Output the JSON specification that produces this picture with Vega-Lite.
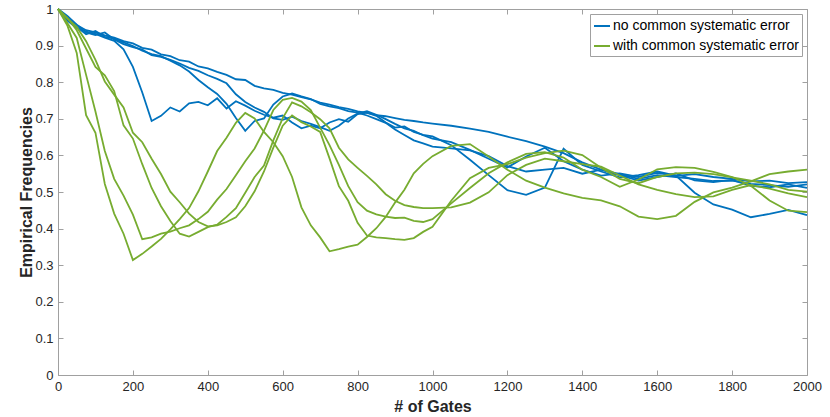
{
  "$schema": "https://vega.github.io/schema/vega-lite/v6.json",
  "width": 749,
  "height": 366,
  "autosize": {"type": "none"},
  "padding": {"left": 58, "top": 9, "right": 23, "bottom": 42},
  "background": "white",
  "config": {
    "view": {"stroke": null},
    "font": "Liberation Sans",
    "axis": {
      "grid": false,
      "domainColor": "#a0a0a0",
      "tickColor": "#a0a0a0",
      "tickSize": -5,
      "labelColor": "#262626",
      "titleColor": "#262626",
      "labelFontSize": 13,
      "titleFontSize": 16,
      "titleFontWeight": "bold",
      "labelFlush": false,
      "labelOverlap": false
    }
  },
  "datasets": {
    "series": [
      {"id": "b1", "type": "no common systematic error"},
      {"id": "b2", "type": "no common systematic error"},
      {"id": "b3", "type": "no common systematic error"},
      {"id": "b4", "type": "no common systematic error"},
      {"id": "g1", "type": "with common systematic error"},
      {"id": "g2", "type": "with common systematic error"},
      {"id": "g3", "type": "with common systematic error"},
      {"id": "g4", "type": "with common systematic error"}
    ],
    "points": [
      {"id":"b1","x":0,"y":1},{"id":"b1","x":25,"y":0.972},{"id":"b1","x":50,"y":0.956},{"id":"b1","x":75,"y":0.942},{"id":"b1","x":100,"y":0.936},{"id":"b1","x":125,"y":0.928},{"id":"b1","x":150,"y":0.922},{"id":"b1","x":175,"y":0.912},{"id":"b1","x":200,"y":0.906},{"id":"b1","x":225,"y":0.894},{"id":"b1","x":250,"y":0.889},{"id":"b1","x":275,"y":0.876},{"id":"b1","x":300,"y":0.871},{"id":"b1","x":325,"y":0.86},{"id":"b1","x":350,"y":0.856},{"id":"b1","x":375,"y":0.843},{"id":"b1","x":400,"y":0.838},{"id":"b1","x":425,"y":0.828},{"id":"b1","x":450,"y":0.82},{"id":"b1","x":475,"y":0.808},{"id":"b1","x":500,"y":0.806},{"id":"b1","x":525,"y":0.79},{"id":"b1","x":550,"y":0.783},{"id":"b1","x":575,"y":0.779},{"id":"b1","x":600,"y":0.771},{"id":"b1","x":625,"y":0.766},{"id":"b1","x":650,"y":0.759},{"id":"b1","x":675,"y":0.753},{"id":"b1","x":700,"y":0.744},{"id":"b1","x":725,"y":0.739},{"id":"b1","x":750,"y":0.732},{"id":"b1","x":775,"y":0.727},{"id":"b1","x":800,"y":0.72},{"id":"b1","x":825,"y":0.716},{"id":"b1","x":850,"y":0.71},{"id":"b1","x":875,"y":0.707},{"id":"b1","x":900,"y":0.702},{"id":"b1","x":925,"y":0.697},{"id":"b1","x":950,"y":0.694},{"id":"b1","x":975,"y":0.69},{"id":"b1","x":1000,"y":0.687},{"id":"b1","x":1050,"y":0.681},{"id":"b1","x":1100,"y":0.673},{"id":"b1","x":1150,"y":0.664},{"id":"b1","x":1200,"y":0.651},{"id":"b1","x":1250,"y":0.639},{"id":"b1","x":1300,"y":0.624},{"id":"b1","x":1350,"y":0.606},{"id":"b1","x":1400,"y":0.581},{"id":"b1","x":1450,"y":0.561},{"id":"b1","x":1500,"y":0.549},{"id":"b1","x":1550,"y":0.536},{"id":"b1","x":1600,"y":0.546},{"id":"b1","x":1650,"y":0.541},{"id":"b1","x":1700,"y":0.536},{"id":"b1","x":1750,"y":0.53},{"id":"b1","x":1800,"y":0.531},{"id":"b1","x":1850,"y":0.522},{"id":"b1","x":1900,"y":0.519},{"id":"b1","x":1950,"y":0.514},{"id":"b1","x":2000,"y":0.521},
      {"id":"b2","x":0,"y":1},{"id":"b2","x":25,"y":0.968},{"id":"b2","x":50,"y":0.948},{"id":"b2","x":75,"y":0.938},{"id":"b2","x":100,"y":0.932},{"id":"b2","x":125,"y":0.922},{"id":"b2","x":150,"y":0.913},{"id":"b2","x":175,"y":0.89},{"id":"b2","x":200,"y":0.842},{"id":"b2","x":225,"y":0.772},{"id":"b2","x":250,"y":0.694},{"id":"b2","x":275,"y":0.708},{"id":"b2","x":300,"y":0.731},{"id":"b2","x":325,"y":0.72},{"id":"b2","x":350,"y":0.742},{"id":"b2","x":375,"y":0.746},{"id":"b2","x":400,"y":0.737},{"id":"b2","x":425,"y":0.756},{"id":"b2","x":450,"y":0.728},{"id":"b2","x":475,"y":0.748},{"id":"b2","x":500,"y":0.736},{"id":"b2","x":525,"y":0.722},{"id":"b2","x":550,"y":0.711},{"id":"b2","x":575,"y":0.703},{"id":"b2","x":600,"y":0.709},{"id":"b2","x":625,"y":0.69},{"id":"b2","x":650,"y":0.674},{"id":"b2","x":675,"y":0.681},{"id":"b2","x":700,"y":0.674},{"id":"b2","x":725,"y":0.69},{"id":"b2","x":750,"y":0.699},{"id":"b2","x":775,"y":0.692},{"id":"b2","x":800,"y":0.713},{"id":"b2","x":825,"y":0.717},{"id":"b2","x":850,"y":0.708},{"id":"b2","x":875,"y":0.69},{"id":"b2","x":900,"y":0.676},{"id":"b2","x":925,"y":0.679},{"id":"b2","x":950,"y":0.664},{"id":"b2","x":975,"y":0.656},{"id":"b2","x":1000,"y":0.652},{"id":"b2","x":1050,"y":0.628},{"id":"b2","x":1100,"y":0.588},{"id":"b2","x":1150,"y":0.546},{"id":"b2","x":1200,"y":0.505},{"id":"b2","x":1250,"y":0.492},{"id":"b2","x":1300,"y":0.512},{"id":"b2","x":1350,"y":0.618},{"id":"b2","x":1400,"y":0.574},{"id":"b2","x":1450,"y":0.556},{"id":"b2","x":1500,"y":0.54},{"id":"b2","x":1550,"y":0.546},{"id":"b2","x":1600,"y":0.556},{"id":"b2","x":1650,"y":0.545},{"id":"b2","x":1700,"y":0.498},{"id":"b2","x":1750,"y":0.466},{"id":"b2","x":1800,"y":0.452},{"id":"b2","x":1850,"y":0.431},{"id":"b2","x":1900,"y":0.44},{"id":"b2","x":1950,"y":0.451},{"id":"b2","x":2000,"y":0.437},
      {"id":"b3","x":0,"y":1},{"id":"b3","x":25,"y":0.976},{"id":"b3","x":50,"y":0.951},{"id":"b3","x":75,"y":0.931},{"id":"b3","x":100,"y":0.94},{"id":"b3","x":125,"y":0.924},{"id":"b3","x":150,"y":0.919},{"id":"b3","x":175,"y":0.909},{"id":"b3","x":200,"y":0.899},{"id":"b3","x":225,"y":0.886},{"id":"b3","x":250,"y":0.877},{"id":"b3","x":275,"y":0.871},{"id":"b3","x":300,"y":0.859},{"id":"b3","x":325,"y":0.846},{"id":"b3","x":350,"y":0.829},{"id":"b3","x":375,"y":0.806},{"id":"b3","x":400,"y":0.786},{"id":"b3","x":425,"y":0.768},{"id":"b3","x":450,"y":0.741},{"id":"b3","x":475,"y":0.702},{"id":"b3","x":500,"y":0.667},{"id":"b3","x":525,"y":0.694},{"id":"b3","x":550,"y":0.701},{"id":"b3","x":575,"y":0.739},{"id":"b3","x":600,"y":0.761},{"id":"b3","x":625,"y":0.769},{"id":"b3","x":650,"y":0.761},{"id":"b3","x":675,"y":0.754},{"id":"b3","x":700,"y":0.741},{"id":"b3","x":725,"y":0.734},{"id":"b3","x":750,"y":0.729},{"id":"b3","x":775,"y":0.721},{"id":"b3","x":800,"y":0.717},{"id":"b3","x":825,"y":0.709},{"id":"b3","x":850,"y":0.699},{"id":"b3","x":875,"y":0.689},{"id":"b3","x":900,"y":0.671},{"id":"b3","x":925,"y":0.656},{"id":"b3","x":950,"y":0.641},{"id":"b3","x":975,"y":0.633},{"id":"b3","x":1000,"y":0.624},{"id":"b3","x":1050,"y":0.619},{"id":"b3","x":1100,"y":0.614},{"id":"b3","x":1150,"y":0.598},{"id":"b3","x":1200,"y":0.571},{"id":"b3","x":1250,"y":0.556},{"id":"b3","x":1300,"y":0.561},{"id":"b3","x":1350,"y":0.566},{"id":"b3","x":1400,"y":0.55},{"id":"b3","x":1450,"y":0.561},{"id":"b3","x":1500,"y":0.546},{"id":"b3","x":1550,"y":0.531},{"id":"b3","x":1600,"y":0.541},{"id":"b3","x":1650,"y":0.551},{"id":"b3","x":1700,"y":0.532},{"id":"b3","x":1750,"y":0.527},{"id":"b3","x":1800,"y":0.533},{"id":"b3","x":1850,"y":0.517},{"id":"b3","x":1900,"y":0.513},{"id":"b3","x":1950,"y":0.521},{"id":"b3","x":2000,"y":0.511},
      {"id":"b4","x":0,"y":1},{"id":"b4","x":25,"y":0.981},{"id":"b4","x":50,"y":0.957},{"id":"b4","x":75,"y":0.936},{"id":"b4","x":100,"y":0.929},{"id":"b4","x":125,"y":0.936},{"id":"b4","x":150,"y":0.917},{"id":"b4","x":175,"y":0.904},{"id":"b4","x":200,"y":0.896},{"id":"b4","x":225,"y":0.889},{"id":"b4","x":250,"y":0.874},{"id":"b4","x":275,"y":0.869},{"id":"b4","x":300,"y":0.861},{"id":"b4","x":325,"y":0.851},{"id":"b4","x":350,"y":0.839},{"id":"b4","x":375,"y":0.831},{"id":"b4","x":400,"y":0.819},{"id":"b4","x":425,"y":0.809},{"id":"b4","x":450,"y":0.797},{"id":"b4","x":475,"y":0.767},{"id":"b4","x":500,"y":0.746},{"id":"b4","x":525,"y":0.731},{"id":"b4","x":550,"y":0.719},{"id":"b4","x":575,"y":0.701},{"id":"b4","x":600,"y":0.697},{"id":"b4","x":625,"y":0.706},{"id":"b4","x":650,"y":0.694},{"id":"b4","x":675,"y":0.686},{"id":"b4","x":700,"y":0.677},{"id":"b4","x":725,"y":0.667},{"id":"b4","x":750,"y":0.681},{"id":"b4","x":775,"y":0.701},{"id":"b4","x":800,"y":0.714},{"id":"b4","x":825,"y":0.721},{"id":"b4","x":850,"y":0.711},{"id":"b4","x":875,"y":0.699},{"id":"b4","x":900,"y":0.686},{"id":"b4","x":925,"y":0.674},{"id":"b4","x":950,"y":0.667},{"id":"b4","x":975,"y":0.655},{"id":"b4","x":1000,"y":0.646},{"id":"b4","x":1050,"y":0.636},{"id":"b4","x":1100,"y":0.615},{"id":"b4","x":1150,"y":0.591},{"id":"b4","x":1200,"y":0.567},{"id":"b4","x":1250,"y":0.597},{"id":"b4","x":1300,"y":0.621},{"id":"b4","x":1350,"y":0.584},{"id":"b4","x":1400,"y":0.561},{"id":"b4","x":1450,"y":0.545},{"id":"b4","x":1500,"y":0.551},{"id":"b4","x":1550,"y":0.541},{"id":"b4","x":1600,"y":0.552},{"id":"b4","x":1650,"y":0.544},{"id":"b4","x":1700,"y":0.549},{"id":"b4","x":1750,"y":0.541},{"id":"b4","x":1800,"y":0.536},{"id":"b4","x":1850,"y":0.529},{"id":"b4","x":1900,"y":0.531},{"id":"b4","x":1950,"y":0.524},{"id":"b4","x":2000,"y":0.527},
      {"id":"g1","x":0,"y":1},{"id":"g1","x":25,"y":0.955},{"id":"g1","x":50,"y":0.88},{"id":"g1","x":75,"y":0.71},{"id":"g1","x":100,"y":0.662},{"id":"g1","x":125,"y":0.522},{"id":"g1","x":150,"y":0.441},{"id":"g1","x":175,"y":0.386},{"id":"g1","x":200,"y":0.314},{"id":"g1","x":225,"y":0.331},{"id":"g1","x":250,"y":0.351},{"id":"g1","x":275,"y":0.372},{"id":"g1","x":300,"y":0.398},{"id":"g1","x":325,"y":0.426},{"id":"g1","x":350,"y":0.456},{"id":"g1","x":375,"y":0.502},{"id":"g1","x":400,"y":0.556},{"id":"g1","x":425,"y":0.612},{"id":"g1","x":450,"y":0.648},{"id":"g1","x":475,"y":0.689},{"id":"g1","x":500,"y":0.716},{"id":"g1","x":525,"y":0.701},{"id":"g1","x":550,"y":0.664},{"id":"g1","x":575,"y":0.636},{"id":"g1","x":600,"y":0.598},{"id":"g1","x":625,"y":0.541},{"id":"g1","x":650,"y":0.458},{"id":"g1","x":675,"y":0.409},{"id":"g1","x":700,"y":0.376},{"id":"g1","x":725,"y":0.338},{"id":"g1","x":750,"y":0.344},{"id":"g1","x":775,"y":0.351},{"id":"g1","x":800,"y":0.356},{"id":"g1","x":825,"y":0.377},{"id":"g1","x":850,"y":0.401},{"id":"g1","x":875,"y":0.432},{"id":"g1","x":900,"y":0.471},{"id":"g1","x":925,"y":0.506},{"id":"g1","x":950,"y":0.551},{"id":"g1","x":975,"y":0.577},{"id":"g1","x":1000,"y":0.598},{"id":"g1","x":1050,"y":0.626},{"id":"g1","x":1100,"y":0.631},{"id":"g1","x":1150,"y":0.597},{"id":"g1","x":1200,"y":0.561},{"id":"g1","x":1250,"y":0.531},{"id":"g1","x":1300,"y":0.512},{"id":"g1","x":1350,"y":0.496},{"id":"g1","x":1400,"y":0.484},{"id":"g1","x":1450,"y":0.477},{"id":"g1","x":1500,"y":0.461},{"id":"g1","x":1550,"y":0.433},{"id":"g1","x":1600,"y":0.426},{"id":"g1","x":1650,"y":0.435},{"id":"g1","x":1700,"y":0.473},{"id":"g1","x":1750,"y":0.499},{"id":"g1","x":1800,"y":0.512},{"id":"g1","x":1850,"y":0.529},{"id":"g1","x":1900,"y":0.549},{"id":"g1","x":1950,"y":0.556},{"id":"g1","x":2000,"y":0.561},
      {"id":"g2","x":0,"y":1},{"id":"g2","x":25,"y":0.962},{"id":"g2","x":50,"y":0.921},{"id":"g2","x":75,"y":0.82},{"id":"g2","x":100,"y":0.72},{"id":"g2","x":125,"y":0.612},{"id":"g2","x":150,"y":0.536},{"id":"g2","x":175,"y":0.49},{"id":"g2","x":200,"y":0.438},{"id":"g2","x":225,"y":0.371},{"id":"g2","x":250,"y":0.376},{"id":"g2","x":275,"y":0.386},{"id":"g2","x":300,"y":0.392},{"id":"g2","x":325,"y":0.401},{"id":"g2","x":350,"y":0.409},{"id":"g2","x":375,"y":0.426},{"id":"g2","x":400,"y":0.446},{"id":"g2","x":425,"y":0.479},{"id":"g2","x":450,"y":0.508},{"id":"g2","x":475,"y":0.546},{"id":"g2","x":500,"y":0.584},{"id":"g2","x":525,"y":0.619},{"id":"g2","x":550,"y":0.668},{"id":"g2","x":575,"y":0.724},{"id":"g2","x":600,"y":0.752},{"id":"g2","x":625,"y":0.757},{"id":"g2","x":650,"y":0.747},{"id":"g2","x":675,"y":0.724},{"id":"g2","x":700,"y":0.676},{"id":"g2","x":725,"y":0.628},{"id":"g2","x":750,"y":0.574},{"id":"g2","x":775,"y":0.516},{"id":"g2","x":800,"y":0.472},{"id":"g2","x":825,"y":0.449},{"id":"g2","x":850,"y":0.439},{"id":"g2","x":875,"y":0.433},{"id":"g2","x":900,"y":0.429},{"id":"g2","x":925,"y":0.43},{"id":"g2","x":950,"y":0.421},{"id":"g2","x":975,"y":0.418},{"id":"g2","x":1000,"y":0.426},{"id":"g2","x":1050,"y":0.469},{"id":"g2","x":1100,"y":0.511},{"id":"g2","x":1150,"y":0.551},{"id":"g2","x":1200,"y":0.581},{"id":"g2","x":1250,"y":0.604},{"id":"g2","x":1300,"y":0.609},{"id":"g2","x":1350,"y":0.594},{"id":"g2","x":1400,"y":0.561},{"id":"g2","x":1450,"y":0.541},{"id":"g2","x":1500,"y":0.514},{"id":"g2","x":1550,"y":0.534},{"id":"g2","x":1600,"y":0.562},{"id":"g2","x":1650,"y":0.568},{"id":"g2","x":1700,"y":0.566},{"id":"g2","x":1750,"y":0.555},{"id":"g2","x":1800,"y":0.541},{"id":"g2","x":1850,"y":0.517},{"id":"g2","x":1900,"y":0.477},{"id":"g2","x":1950,"y":0.449},{"id":"g2","x":2000,"y":0.445},
      {"id":"g3","x":0,"y":1},{"id":"g3","x":25,"y":0.976},{"id":"g3","x":50,"y":0.942},{"id":"g3","x":75,"y":0.892},{"id":"g3","x":100,"y":0.842},{"id":"g3","x":125,"y":0.819},{"id":"g3","x":150,"y":0.776},{"id":"g3","x":175,"y":0.682},{"id":"g3","x":200,"y":0.646},{"id":"g3","x":225,"y":0.576},{"id":"g3","x":250,"y":0.511},{"id":"g3","x":275,"y":0.461},{"id":"g3","x":300,"y":0.421},{"id":"g3","x":325,"y":0.386},{"id":"g3","x":350,"y":0.378},{"id":"g3","x":375,"y":0.391},{"id":"g3","x":400,"y":0.404},{"id":"g3","x":425,"y":0.411},{"id":"g3","x":450,"y":0.432},{"id":"g3","x":475,"y":0.456},{"id":"g3","x":500,"y":0.498},{"id":"g3","x":525,"y":0.541},{"id":"g3","x":550,"y":0.572},{"id":"g3","x":575,"y":0.641},{"id":"g3","x":600,"y":0.702},{"id":"g3","x":625,"y":0.745},{"id":"g3","x":650,"y":0.734},{"id":"g3","x":675,"y":0.718},{"id":"g3","x":700,"y":0.699},{"id":"g3","x":725,"y":0.674},{"id":"g3","x":750,"y":0.621},{"id":"g3","x":775,"y":0.589},{"id":"g3","x":800,"y":0.566},{"id":"g3","x":825,"y":0.544},{"id":"g3","x":850,"y":0.521},{"id":"g3","x":875,"y":0.494},{"id":"g3","x":900,"y":0.476},{"id":"g3","x":925,"y":0.464},{"id":"g3","x":950,"y":0.459},{"id":"g3","x":975,"y":0.456},{"id":"g3","x":1000,"y":0.456},{"id":"g3","x":1050,"y":0.458},{"id":"g3","x":1100,"y":0.471},{"id":"g3","x":1150,"y":0.499},{"id":"g3","x":1200,"y":0.546},{"id":"g3","x":1250,"y":0.574},{"id":"g3","x":1300,"y":0.591},{"id":"g3","x":1350,"y":0.584},{"id":"g3","x":1400,"y":0.576},{"id":"g3","x":1450,"y":0.569},{"id":"g3","x":1500,"y":0.545},{"id":"g3","x":1550,"y":0.521},{"id":"g3","x":1600,"y":0.506},{"id":"g3","x":1650,"y":0.494},{"id":"g3","x":1700,"y":0.486},{"id":"g3","x":1750,"y":0.488},{"id":"g3","x":1800,"y":0.506},{"id":"g3","x":1850,"y":0.519},{"id":"g3","x":1900,"y":0.509},{"id":"g3","x":1950,"y":0.496},{"id":"g3","x":2000,"y":0.486},
      {"id":"g4","x":0,"y":1},{"id":"g4","x":25,"y":0.974},{"id":"g4","x":50,"y":0.951},{"id":"g4","x":75,"y":0.912},{"id":"g4","x":100,"y":0.861},{"id":"g4","x":125,"y":0.802},{"id":"g4","x":150,"y":0.766},{"id":"g4","x":175,"y":0.731},{"id":"g4","x":200,"y":0.662},{"id":"g4","x":225,"y":0.636},{"id":"g4","x":250,"y":0.591},{"id":"g4","x":275,"y":0.549},{"id":"g4","x":300,"y":0.501},{"id":"g4","x":325,"y":0.472},{"id":"g4","x":350,"y":0.441},{"id":"g4","x":375,"y":0.418},{"id":"g4","x":400,"y":0.406},{"id":"g4","x":425,"y":0.409},{"id":"g4","x":450,"y":0.418},{"id":"g4","x":475,"y":0.431},{"id":"g4","x":500,"y":0.461},{"id":"g4","x":525,"y":0.502},{"id":"g4","x":550,"y":0.556},{"id":"g4","x":575,"y":0.621},{"id":"g4","x":600,"y":0.681},{"id":"g4","x":625,"y":0.709},{"id":"g4","x":650,"y":0.691},{"id":"g4","x":675,"y":0.679},{"id":"g4","x":700,"y":0.664},{"id":"g4","x":725,"y":0.592},{"id":"g4","x":750,"y":0.516},{"id":"g4","x":775,"y":0.476},{"id":"g4","x":800,"y":0.416},{"id":"g4","x":825,"y":0.381},{"id":"g4","x":850,"y":0.376},{"id":"g4","x":875,"y":0.374},{"id":"g4","x":900,"y":0.371},{"id":"g4","x":925,"y":0.369},{"id":"g4","x":950,"y":0.374},{"id":"g4","x":975,"y":0.391},{"id":"g4","x":1000,"y":0.405},{"id":"g4","x":1050,"y":0.476},{"id":"g4","x":1100,"y":0.538},{"id":"g4","x":1150,"y":0.566},{"id":"g4","x":1200,"y":0.576},{"id":"g4","x":1250,"y":0.594},{"id":"g4","x":1300,"y":0.606},{"id":"g4","x":1350,"y":0.613},{"id":"g4","x":1400,"y":0.601},{"id":"g4","x":1450,"y":0.566},{"id":"g4","x":1500,"y":0.536},{"id":"g4","x":1550,"y":0.524},{"id":"g4","x":1600,"y":0.541},{"id":"g4","x":1650,"y":0.551},{"id":"g4","x":1700,"y":0.553},{"id":"g4","x":1750,"y":0.549},{"id":"g4","x":1800,"y":0.54},{"id":"g4","x":1850,"y":0.531},{"id":"g4","x":1900,"y":0.521},{"id":"g4","x":1950,"y":0.506},{"id":"g4","x":2000,"y":0.501}
    ]
  },
  "layer": [
    {
      "data": {"name": "points"},
      "transform": [
        {"lookup": "id", "from": {"data": {"name": "series"}, "key": "id", "fields": ["type"]}}
      ],
      "mark": {"type": "line", "strokeWidth": 1.8},
      "encoding": {
        "x": {
          "field": "x",
          "type": "quantitative",
          "scale": {"domain": [0, 2000], "nice": false},
          "axis": {
            "orient": "bottom",
            "values": [0, 200, 400, 600, 800, 1000, 1200, 1400, 1600, 1800, 2000],
            "format": "d",
            "title": "# of Gates",
            "labelPadding": 10,
            "titlePadding": 5
          }
        },
        "y": {
          "field": "y",
          "type": "quantitative",
          "scale": {"domain": [0, 1], "nice": false},
          "axis": {
            "orient": "left",
            "values": [0, 0.1, 0.2, 0.3, 0.4, 0.5, 0.6, 0.7, 0.8, 0.9, 1],
            "format": "~g",
            "title": "Empirical Frequencies",
            "labelPadding": 10,
            "titlePadding": 0
          }
        },
        "color": {
          "field": "type",
          "type": "nominal",
          "scale": {
            "domain": ["no common systematic error", "with common systematic error"],
            "range": ["#0072BD", "#77AC30"]
          },
          "legend": {
            "title": null,
            "orient": "top-right",
            "offset": 5,
            "symbolType": "stroke",
            "symbolStrokeWidth": 2,
            "symbolSize": 256,
            "labelFontSize": 14,
            "labelLimit": 0,
            "labelColor": "#000000",
            "labelOffset": 2,
            "strokeColor": "#a0a0a0",
            "fillColor": "#ffffff",
            "padding": 3,
            "rowPadding": 4
          }
        },
        "detail": {"field": "id"}
      }
    },
    {
      "data": {"values": [{"x": 0, "y": 0}, {"x": 2000, "y": 1}]},
      "mark": {"type": "point", "opacity": 0},
      "encoding": {
        "x": {
          "field": "x",
          "type": "quantitative",
          "axis": {
            "orient": "top",
            "values": [0, 200, 400, 600, 800, 1000, 1200, 1400, 1600, 1800, 2000],
            "labels": false,
            "title": null
          }
        },
        "y": {
          "field": "y",
          "type": "quantitative",
          "axis": {
            "orient": "right",
            "values": [0, 0.1, 0.2, 0.3, 0.4, 0.5, 0.6, 0.7, 0.8, 0.9, 1],
            "labels": false,
            "title": null
          }
        }
      }
    }
  ],
  "resolve": {"axis": {"x": "independent", "y": "independent"}}
}
